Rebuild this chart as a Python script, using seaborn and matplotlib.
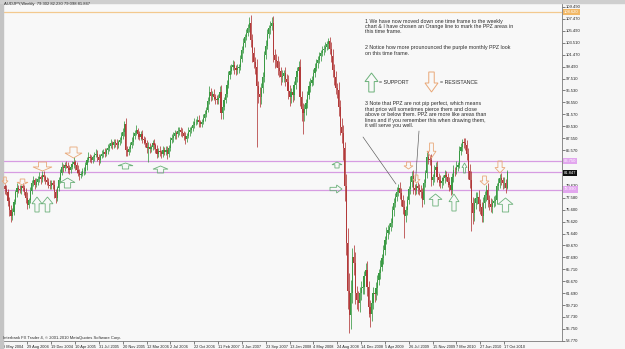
import matplotlib
matplotlib.use("Agg")
import matplotlib.pyplot as plt
import seaborn as sns
import pandas as pd
from matplotlib.patches import Polygon, Rectangle
from matplotlib.transforms import Affine2D

# ---------------- data (weekly AUDJPY) ----------------
first_open = 79.8
closes = [
    79.5, 79.0, 78.6, 77.0, 75.5, 74.5, 75.3, 76.9, 78.5, 79.3,
    79.0, 78.9, 79.5, 79.2, 78.6, 77.6, 76.4, 77.2, 78.8, 80.0,
    80.5, 79.8, 80.3, 80.8, 81.1, 80.7, 81.4, 81.0, 80.6, 80.3,
    79.8, 79.5, 80.1, 79.8, 78.5, 77.5, 79.2, 80.6, 81.8, 82.8,
    82.5, 83.1, 82.9, 82.5, 82.2, 82.8, 83.2, 83.6, 83.0, 82.3,
    81.8, 81.4, 81.6, 82.0, 82.0, 83.0, 84.0, 84.5, 84.2, 83.9,
    84.4, 84.8, 85.0, 84.5, 83.9, 84.6, 85.0, 85.2, 85.0, 85.6,
    86.0, 86.3, 86.7, 86.4, 86.9, 86.7, 86.4, 86.9, 87.3, 88.0,
    88.6, 90.0, 85.6, 85.3, 85.8, 86.4, 87.0, 88.0, 88.5, 88.9,
    88.2, 87.8, 88.3, 87.5, 87.2, 86.8, 86.0, 86.1, 85.8, 86.1,
    86.8, 86.4, 85.8, 85.0, 85.4, 85.2, 85.0, 85.6, 85.3, 85.6,
    85.0, 86.0, 87.2, 87.6, 88.0, 88.4, 88.2, 88.7, 88.9, 88.6,
    88.4, 88.0, 87.5, 88.0, 88.6, 88.9, 89.2, 89.8, 90.2, 90.3,
    90.6, 90.2, 90.0, 90.3, 91.0, 91.6, 92.3, 93.8, 95.3, 94.6,
    94.9, 94.5, 94.1, 93.9, 94.3, 95.3, 91.7, 92.8, 93.9, 95.0,
    96.5, 98.1, 98.8, 99.5, 99.8, 99.2, 98.9, 99.2, 99.5, 100.8,
    102.3, 103.5, 104.5, 105.1, 106.0, 106.7, 104.0, 101.7, 100.3, 99.5,
    96.2, 95.0, 94.5, 96.0, 97.8, 101.5, 103.0, 105.0, 105.9, 106.3,
    106.7, 101.5, 100.6, 100.4, 99.2, 98.7, 97.8, 98.0, 98.4, 97.5,
    97.0, 95.5, 94.5, 95.2, 94.8, 96.5, 97.8, 98.8, 99.5, 94.5,
    92.5, 91.7, 92.5, 93.4, 94.8, 96.2, 96.8, 97.3, 98.5, 99.3,
    100.1, 100.6, 101.2, 101.8, 102.3, 102.5, 102.8, 103.2, 103.7, 102.5,
    101.2, 99.0, 97.8, 96.0, 95.6, 92.8, 89.5, 88.4, 86.0, 79.5,
    70.0, 62.0, 58.0, 61.7, 67.8, 66.7, 61.7, 60.5, 60.0, 61.7,
    62.5, 62.8, 64.5, 65.6, 62.8, 59.4, 58.3, 60.0, 61.7, 61.5,
    62.5, 63.9, 65.0, 66.1, 67.5, 68.9, 70.5, 71.7, 72.2, 72.8,
    73.4, 75.5, 76.7, 77.8, 78.5, 79.2, 78.4, 77.2, 76.1, 74.5,
    75.5, 77.2, 79.0, 80.3, 81.2, 79.2, 78.9, 79.5, 79.2, 78.9,
    78.5, 77.2, 80.0, 81.7, 84.5, 84.0, 83.9, 80.6, 81.0, 82.2,
    82.8, 81.1, 80.6, 80.0, 80.4, 80.9, 81.4, 81.1, 80.3, 79.7,
    78.9, 81.0, 82.3, 82.2, 82.8, 83.0, 85.5, 86.1, 87.0, 86.7,
    86.5, 85.0, 82.0, 80.6, 76.7, 75.0, 76.7, 77.5, 77.8, 76.5,
    76.1, 74.5, 76.7, 78.0, 78.9, 77.2, 76.5, 76.1, 76.7, 77.0,
    77.2, 79.5, 80.0, 80.9, 80.5, 80.0, 80.0, 79.302, 81.847,
]
wick_up = [
    0.6,0.4,0.8,0.5,0.7,0.9,0.6,0.5,0.4,0.7, 0.5,0.8,0.3,0.6,0.5,0.7,0.9,0.4,0.6,0.5,
    0.7,0.4,0.6,0.5,0.8,0.3,0.6,0.7,0.4,0.5, 0.6,0.8,0.4,0.5,0.7,0.6,0.3,0.5,0.6,0.8,
    0.5,0.4,0.7,0.6,0.5,0.3,0.6,0.8,0.4,0.5, 0.7,0.6,0.4,0.5,0.8,0.6,0.4,0.7,0.5,0.6,
    0.4,0.5,0.7,0.6,0.5,0.4,0.6,0.5,0.7,0.4, 0.6,0.5,0.8,0.4,0.5,0.6,0.7,0.4,0.5,0.6,
    0.7,0.5,0.9,0.6,0.4,0.5,0.7,0.6,0.5,0.8, 0.4,0.6,0.5,0.7,0.4,0.6,0.5,0.8,0.6,0.4,
    0.5,0.7,0.4,0.6,0.5,0.8,0.4,0.6,0.5,0.7, 0.6,0.4,0.5,0.7,0.6,0.5,0.4,0.8,0.5,0.6,
    0.7,0.4,0.6,0.5,0.8,0.5,0.4,0.6,0.7,0.5, 0.6,0.8,0.4,0.5,0.6,0.7,0.5,0.6,0.9,0.7,
    0.6,0.8,0.5,0.7,0.6,0.9,1.2,0.7,0.6,0.8, 0.7,0.6,0.9,0.5,0.8,0.7,0.6,0.8,0.5,0.7,
    0.6,0.8,0.5,0.7,0.6,1.1,1.4,0.9,1.0,0.8, 1.2,0.9,1.1,0.7,0.8,0.6,0.9,0.7,0.6,0.8,
    1.1,1.3,0.9,1.0,0.8,1.2,0.7,0.9,0.6,1.0, 0.8,1.1,0.9,0.7,1.0,0.6,0.8,0.7,0.9,1.3,
    1.0,0.9,0.8,0.7,0.6,0.9,0.8,0.7,0.6,0.8, 0.7,0.6,0.8,0.5,0.7,0.6,0.8,0.5,0.6,0.7,
    1.1,1.2,0.9,1.0,0.8,1.3,1.2,1.5,1.4,1.0, 2.0,2.5,3.0,2.2,1.5,2.0,1.8,1.2,1.5,1.0,
    1.3,1.1,0.9,1.2,1.4,1.0,1.2,0.9,1.1,0.8, 1.0,0.9,0.7,1.1,0.8,0.9,0.7,1.0,0.8,0.6,
    0.9,0.7,0.8,0.6,0.9,0.7,1.0,0.8,0.9,1.1, 0.8,0.7,0.6,0.9,0.8,1.0,0.7,0.6,0.8,0.7,
    0.9,0.8,0.7,0.6,0.8,0.9,0.7,1.0,0.6,0.8, 0.7,0.9,0.6,0.8,0.7,0.5,0.9,0.6,0.7,0.8,
    0.6,0.8,0.7,0.5,0.9,0.6,0.8,0.7,0.5,0.6, 0.9,0.8,1.0,1.2,1.4,1.1,0.9,1.0,0.8,1.1,
    0.9,0.8,1.0,0.7,0.9,1.2,0.8,1.0,0.7,0.9, 0.8,0.6,0.9,0.7,0.8,0.6,1.0,0.7,0.383,
]
wick_dn = [
    0.5,0.7,0.6,0.8,0.9,1.0,0.6,0.5,0.4,0.7, 0.6,0.5,0.7,0.4,0.6,0.8,0.6,0.5,0.4,0.6,
    0.5,0.7,0.4,0.6,0.5,0.8,0.4,0.6,0.7,0.5, 0.6,0.4,0.5,0.7,0.9,0.8,0.4,0.5,0.6,0.4,
    0.6,0.5,0.4,0.7,0.6,0.5,0.4,0.6,0.7,0.5, 0.6,0.8,0.5,0.4,0.6,0.5,0.7,0.4,0.6,0.5,
    0.5,0.6,0.4,0.7,0.8,0.5,0.4,0.6,0.5,0.4, 0.6,0.5,0.4,0.7,0.5,0.6,0.7,0.4,0.5,0.6,
    0.5,0.6,1.0,0.7,0.5,0.6,0.4,0.5,0.6,0.4, 0.7,0.6,0.5,0.8,0.6,0.7,0.9,2.4,0.7,0.6,
    0.5,0.6,0.7,0.8,0.5,0.6,0.7,0.5,0.6,0.5, 0.9,0.6,0.5,0.4,0.6,0.5,0.7,0.4,0.6,0.7,
    0.6,0.8,0.9,0.5,0.4,0.6,0.5,0.4,0.6,0.5, 0.4,0.7,0.6,0.5,0.4,0.6,0.5,0.4,0.6,0.8,
    0.7,0.6,0.8,0.7,0.6,0.5,1.0,0.9,0.6,0.5, 0.6,0.5,0.7,0.6,0.5,0.9,0.8,0.6,0.7,0.5,
    0.6,0.5,0.7,0.6,0.5,0.8,1.2,1.4,1.0,1.3, 10.1,1.5,1.8,1.2,0.9,0.8,0.7,0.6,0.8,0.9,
    0.7,1.2,1.4,1.0,1.1,0.9,1.3,0.8,1.0,1.2, 0.9,1.4,1.6,1.0,1.2,0.8,0.7,0.9,0.6,1.5,
    2.0,3.5,1.2,1.0,0.8,0.7,0.9,0.6,0.8,0.7, 0.6,0.8,0.5,0.7,0.6,0.8,0.5,0.6,0.7,0.9,
    1.0,1.2,1.4,1.1,1.3,1.5,1.4,1.6,2.0,2.5, 2.0,3.0,3.0,2.2,1.6,2.0,1.8,1.5,1.2,1.4,
    1.2,1.0,1.3,1.1,1.5,1.6,2.2,1.2,1.0,1.3, 0.9,1.1,0.8,1.0,0.7,0.9,0.8,0.6,0.9,0.7,
    0.8,0.6,0.9,0.7,0.8,0.6,1.0,0.9,1.2,3.6, 1.0,0.8,0.6,0.7,0.9,1.0,0.8,0.7,0.9,0.8,
    1.0,1.2,0.7,0.6,0.8,0.7,0.9,1.1,0.8,0.7, 0.6,0.9,1.0,0.8,0.7,0.6,0.8,0.7,0.9,1.0,
    0.8,0.6,0.7,0.9,0.6,0.7,0.5,0.8,0.6,0.7, 0.9,1.0,1.2,1.4,4.7,1.8,1.2,1.0,0.9,1.1,
    1.2,1.0,0.9,0.8,1.0,1.1,0.9,0.8,1.0,0.7, 0.8,0.7,0.6,0.8,0.7,0.9,0.8,0.9,0.204,
]
date_labels = ["9 May 2004", "29 Aug 2004", "19 Dec 2004", "10 Apr 2005", "31 Jul 2005",
               "20 Nov 2005", "12 Mar 2006", "2 Jul 2006", "22 Oct 2006", "11 Feb 2007",
               "3 Jun 2007", "23 Sep 2007", "13 Jan 2008", "4 May 2008", "24 Aug 2008",
               "14 Dec 2008", "5 Apr 2009", "26 Jul 2009", "15 Nov 2009", "7 Mar 2010",
               "27 Jun 2010", "17 Oct 2010"]
date_weeks = [0, 16, 32, 48, 64, 80, 96, 112, 128, 144, 160, 176, 192, 208, 224,
              240, 256, 272, 288, 304, 320, 336]
price_ticks = [109.490, 107.470, 105.490, 103.510, 101.470, 99.490, 97.510, 95.530,
               93.550, 91.570, 89.530, 87.550, 85.570, 79.620, 77.580,
               75.600, 73.620, 71.640, 69.670, 67.690, 65.710, 63.670, 61.690, 59.710,
               57.730, 55.750, 53.770]
monthly_ppz = [83.750, 81.860, 78.990]
weekly_line = 108.620
last_price = 81.847

assert len(closes) == len(wick_up) == len(wick_dn)

# ---------------- build OHLC ----------------
opens = [first_open] + closes[:-1]
df = pd.DataFrame({"week": range(len(closes)), "open": opens, "close": closes})
df["high"] = df[["open", "close"]].max(axis=1) + pd.Series(wick_up)
df["low"] = df[["open", "close"]].min(axis=1) - pd.Series(wick_dn)
df["bull"] = df["close"] >= df["open"]

BULL, BEAR = "#3a9a44", "#b23a3a"

# ---------------- figure ----------------
sns.set_theme(style="white")
plt.rcParams["font.family"] = ["Liberation Sans", "DejaVu Sans"]

W, H = 625, 349
fig = plt.figure(figsize=(W / 100, H / 100), dpi=100, facecolor="#f6f6f6")
px = Affine2D().scale(1 / W, -1 / H).translate(0, 1) + fig.transFigure

L, R, T, B = 3, 562, 3, 341
ax = fig.add_axes([L / W, 1 - B / H, (R - L) / W, (B - T) / H])
ax.set_facecolor("#f8f8f8")

# x: pixel = 3.5 + 1.49*week ; y: pixel = 340.7 - (p-53.77)*5.994
ax.set_xlim((L - 3.5) / 1.49, (R - 3.5) / 1.49)
ax.set_ylim(53.77 - (B - 340.7) / 5.994, 53.77 + (340.7 - T) / 5.994)

# horizontal PPZ lines
ax.axhline(weekly_line, color="#f3c98f", lw=0.9, zorder=1)
for v in monthly_ppz:
    ax.axhline(v, color="#d79ce2", lw=0.9, zorder=1)

# candles
colors = [BULL if b else BEAR for b in df["bull"]]
ax.vlines(df["week"], df["low"], df["high"], colors=colors, lw=0.55, zorder=2)
body_bottom = df[["open", "close"]].min(axis=1)
body_h = (df["close"] - df["open"]).abs().clip(lower=0.12)
ax.bar(df["week"], body_h, bottom=body_bottom, width=0.8, color=colors,
       linewidth=0, zorder=3)

# axes styling
for s in ["left", "top"]:
    ax.spines[s].set_visible(False)
for s in ["right", "bottom"]:
    ax.spines[s].set_color("#7a7a7a")
    ax.spines[s].set_linewidth(0.6)
ax.yaxis.tick_right()
ax.set_yticks(price_ticks)
ax.set_yticklabels([f"{v:.3f}" for v in price_ticks])
ax.tick_params(axis="y", right=True, left=False, length=2, width=0.4, pad=1,
               labelsize=3.0, colors="#222222")
ax.set_xticks(date_weeks)
ax.set_xticklabels(date_labels)
ax.tick_params(axis="x", bottom=True, length=2, width=0.4, pad=0.6,
               labelsize=2.8, colors="#222222")
for lbl in ax.get_xticklabels():
    lbl.set_ha("left")
ax.grid(False)

# outer window borders
fig.patches.append(Rectangle((0, 0), 3, H, transform=px, color="#c4c4c4", zorder=0))
fig.patches.append(Rectangle((0, 0), W, 3, transform=px, color="#cfcfcf", zorder=0))

# axis highlight boxes
def price_box(value, y, fc, tc):
    fig.text(564, y, f"{value:.3f}", transform=px, fontsize=3.0, color=tc,
             va="center", ha="left",
             bbox=dict(boxstyle="square,pad=0.25", fc=fc, ec="none"), zorder=10)

price_box(weekly_line, 11.7, "#f2b866", "#ffffff")
price_box(monthly_ppz[0], 161.0, "#e2a6ee", "#ffffff")
price_box(last_price, 172.6, "#111111", "#ffffff")
price_box(monthly_ppz[2], 189.5, "#e2a6ee", "#ffffff")

# texts
TXT = "#2b2b2b"
fig.text(4, 4.5, "AUDJPY,Weekly  79.302 82.230 79.098 81.847", transform=px,
         fontsize=3.0, color=TXT, va="center", ha="left")
fig.text(3, 337.5, "Interbank FX Trader 4, \u00a9 2001-2010 MetaQuotes Software Corp.",
         transform=px, fontsize=3.0, color=TXT, va="center", ha="left")

fs, ls = 3.8, 1.12
fig.text(365, 18.5, "1 We have now moved down one time frame to the weekly\n"
         "chart & I have chosen an Orange line to mark the PPZ areas in\n"
         "this time frame.", transform=px, fontsize=fs, linespacing=ls,
         color=TXT, va="top", ha="left")
fig.text(365, 45.5, "2 Notice how more prounounced the purple monthly PPZ look\n"
         "on this time frame.", transform=px, fontsize=fs, linespacing=ls,
         color=TXT, va="top", ha="left")
fig.text(379, 83, "= SUPPORT", transform=px, fontsize=fs, color=TXT,
         va="center", ha="left")
fig.text(440, 83, "= RESISTANCE", transform=px, fontsize=fs, color=TXT,
         va="center", ha="left")
fig.text(365, 101.5, "3 Note that PPZ are not pip perfect, which means\n"
         "that price will sometimes pierce them and close\n"
         "above or below them. PPZ are more like areas than\n"
         "lines and if you remember this when drawing them,\n"
         "it will serve you well.", transform=px, fontsize=fs, linespacing=ls,
         color=TXT, va="top", ha="left")

# pointer lines
for (x0, y0, x1, y1) in [(363, 137, 396, 184), (419, 131, 415.5, 181)]:
    fig.add_artist(plt.Line2D([x0, x1], [y0, y1], transform=px, color="#555555",
                              lw=0.45, zorder=6))

# hollow arrows (pixel boxes)
GREEN, ORANGE = "#6cb17a", "#e9a878"

def arrow(x0, x1, y0, y1, kind, color, lw=0.6):
    w, h = x1 - x0, y1 - y0
    if kind == "up":
        cx, sw, hh = (x0 + x1) / 2, w * 0.42, h * 0.45
        pts = [(cx, y0), (x1, y0 + hh), (cx + sw / 2, y0 + hh), (cx + sw / 2, y1),
               (cx - sw / 2, y1), (cx - sw / 2, y0 + hh), (x0, y0 + hh)]
    elif kind == "down":
        cx, sw, hh = (x0 + x1) / 2, w * 0.42, h * 0.45
        pts = [(cx, y1), (x1, y1 - hh), (cx + sw / 2, y1 - hh), (cx + sw / 2, y0),
               (cx - sw / 2, y0), (cx - sw / 2, y1 - hh), (x0, y1 - hh)]
    else:  # right
        cy, sh, hw = (y0 + y1) / 2, h * 0.42, w * 0.45
        pts = [(x1, cy), (x1 - hw, y0), (x1 - hw, cy - sh / 2), (x0, cy - sh / 2),
               (x0, cy + sh / 2), (x1 - hw, cy + sh / 2), (x1 - hw, y1)]
    fig.add_artist(Polygon(pts, closed=True, transform=px, fc="none", ec=color,
                           lw=lw, zorder=7))

# legend arrows
arrow(365, 378, 73, 92, "up", GREEN, 0.7)
arrow(425, 438, 72, 92, "down", ORANGE, 0.7)

supports = [(32, 42, 197, 212), (42, 53, 197, 212), (60, 75, 178, 188),
            (118, 133, 163, 169), (153, 168, 166, 173), (332, 342, 162, 168),
            (429, 442, 194, 206), (449, 459, 194, 211), (462, 467, 163, 173),
            (498, 513, 198, 212)]
resists = [(2, 8, 177, 184), (17, 28, 179, 185), (33, 52, 162, 171),
           (65, 82, 147, 158), (404, 413, 162, 169), (413, 420, 175, 183),
           (427, 436, 143, 158), (480, 489, 176, 185), (495, 505, 161, 173)]
for b in supports:
    arrow(*b, "up", GREEN)
for b in resists:
    arrow(*b, "down", ORANGE)
arrow(330, 342, 185, 193, "right", GREEN)

fig.savefig("out.png", dpi=100, facecolor=fig.get_facecolor())
